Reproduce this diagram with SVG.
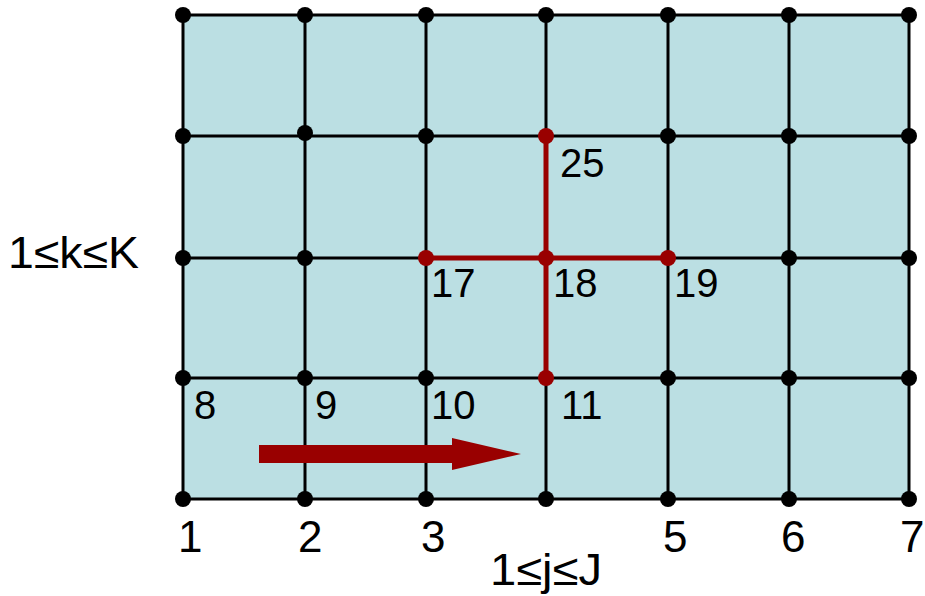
<svg xmlns="http://www.w3.org/2000/svg" width="925" height="596" viewBox="0 0 925 596">
<style>
.grid{stroke:#000;stroke-width:3;fill:none}
.dot{fill:#000}
.rdot{fill:#990000}
.red{stroke:#990000;stroke-width:5;fill:none}
text{font-family:"Liberation Sans",Arial,sans-serif;font-size:40px;fill:#000}
.big{font-size:44px}
</style>
<rect x="183" y="15" width="726" height="484" fill="#bbdfe3"/>
<g id="connectors">
<g class="grid">
<path d="M183 15V499M305 15V499M426 15V499M546 15V499M668 15V499M789 15V499M909 15V499"/>
<path d="M183 15H909M183 136H909M183 258H909M183 378H909M183 499H909"/>
</g>
<path class="red" d="M546 136V378M426 258H668"/>
<polygon id="arrow" fill="#990000" points="259,445 452,445 452,438 521,454 452,470 452,463 259,463"/>
</g>
<g id="nodes" class="dot">
<circle cx="183" cy="15" r="8"/><circle cx="305" cy="15" r="8"/><circle cx="426" cy="15" r="8"/><circle cx="546" cy="15" r="8"/><circle cx="668" cy="15" r="8"/><circle cx="789" cy="15" r="8"/><circle cx="909" cy="15" r="8"/>
<circle cx="183" cy="136" r="8"/><circle cx="305" cy="133" r="8"/><circle cx="426" cy="136" r="8"/><circle cx="668" cy="136" r="8"/><circle cx="789" cy="136" r="8"/><circle cx="909" cy="136" r="8"/>
<circle cx="183" cy="258" r="8"/><circle cx="305" cy="258" r="8"/><circle cx="789" cy="258" r="8"/><circle cx="909" cy="258" r="8"/>
<circle cx="183" cy="378" r="8"/><circle cx="305" cy="378" r="8"/><circle cx="426" cy="378" r="8"/><circle cx="668" cy="378" r="8"/><circle cx="789" cy="378" r="8"/><circle cx="909" cy="378" r="8"/>
<circle cx="183" cy="499" r="8"/><circle cx="305" cy="499" r="8"/><circle cx="426" cy="499" r="8"/><circle cx="546" cy="499" r="8"/><circle cx="668" cy="499" r="8"/><circle cx="789" cy="499" r="8"/><circle cx="909" cy="499" r="8"/>
</g>
<g id="red-nodes" class="rdot">
<circle id="n25" cx="546" cy="136" r="8"/>
<circle id="n17" cx="426" cy="258" r="8"/>
<circle id="n18" cx="546" cy="258" r="8"/>
<circle id="n19" cx="668" cy="258" r="8"/>
<circle id="n11" cx="546" cy="378" r="8"/>
</g>
<g id="labels">
<text x="560" y="177">25</text>
<text x="431" y="297">17</text>
<text x="553" y="297">18</text>
<text x="674" y="297">19</text>
<text x="194" y="419">8</text>
<text x="315" y="419">9</text>
<text x="431" y="419">10</text>
<text x="561" y="419">11</text>
<text class="big" x="178" y="552">1</text>
<text class="big" x="298" y="552">2</text>
<text class="big" x="421" y="552">3</text>
<text class="big" x="663" y="552">5</text>
<text class="big" x="781" y="552">6</text>
<text class="big" x="900" y="552">7</text>
<text class="big" x="8" y="268" textLength="131" lengthAdjust="spacingAndGlyphs">1≤k≤K</text>
<text class="big" x="490" y="585" textLength="112" lengthAdjust="spacingAndGlyphs">1≤j≤J</text>
</g>
</svg>
